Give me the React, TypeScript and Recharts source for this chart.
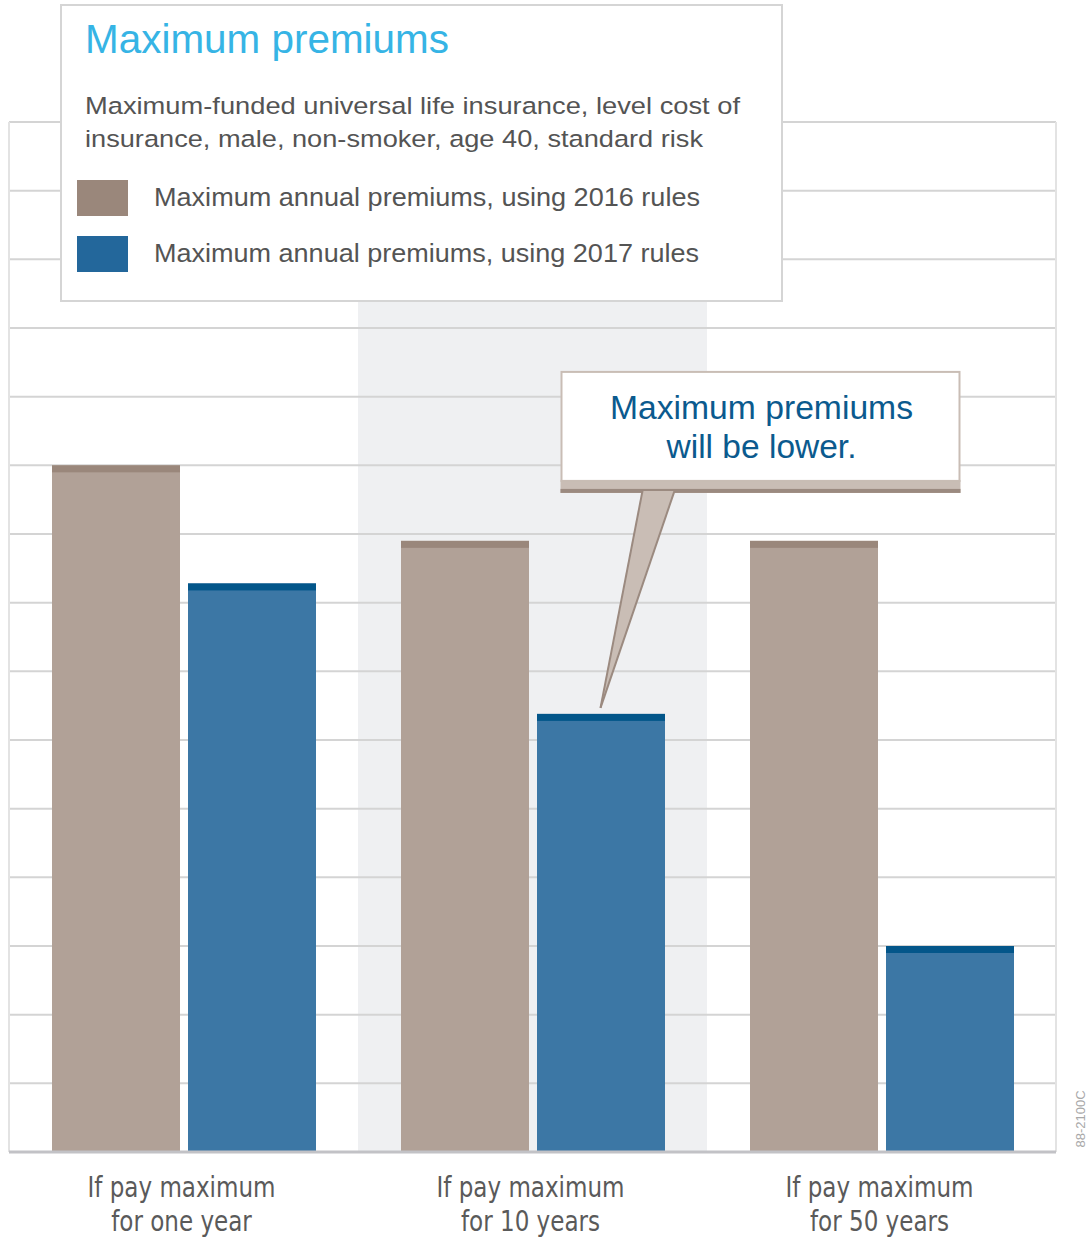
import React from 'react';
import {
  BarChart,
  Bar,
  XAxis,
  YAxis,
  CartesianGrid,
  ReferenceArea,
  ReferenceDot,
  Legend,
} from 'recharts';

// ---------- data ----------
const categories = [
  'If pay maximum\nfor one year',
  'If pay maximum\nfor 10 years',
  'If pay maximum\nfor 50 years',
];
const rules2016 = [10.0, 8.9, 8.9];
const rules2017 = [8.28, 6.38, 3.0];
const yTicks = [0, 1, 2, 3, 4, 5, 6, 7, 8, 9, 10, 11, 12, 13, 14, 15];
const seriesNames = [
  'Maximum annual premiums, using 2016 rules',
  'Maximum annual premiums, using 2017 rules',
];
const titleText = 'Maximum premiums';
const subtitleLines = [
  'Maximum-funded universal life insurance, level cost of',
  'insurance, male, non-smoker, age 40, standard risk',
];
const calloutLines = ['Maximum premiums', 'will be lower.'];
const highlightIndex = 1;
const calloutIndex = 1;
const codeLabel = '88-2100C';

const data = categories.map((c, i) => ({
  category: c,
  r2016: rules2016[i],
  r2017: rules2017[i],
}));

// ---------- style ----------
const FONT = "'Liberation Sans', Arial, Helvetica, sans-serif";
const NARROW = "'Liberation Sans Narrow', 'Arial Narrow', 'DejaVu Sans Condensed', sans-serif";
const BAR_SIZE = 128;
const BAR_GAP = 8;
const COLORS = {
  brown: '#b1a197',
  brownCap: '#9a877b',
  blue: '#3c77a5',
  blueCap: '#03568a',
  swatchBrown: '#9a877b',
  swatchBlue: '#23679b',
};
const subtitleWidths = [655, 618];
const itemWidths = [546, 545];
const calloutWidths = [303, 190];

const makeCapped = (capColor: string) => (props: any) => {
  const { x, y, width, height, fill } = props;
  if (!height || height <= 0) return <g />;
  return (
    <g>
      <rect x={x} y={y} width={width} height={height} fill={fill} />
      <rect x={x} y={y} width={width} height={Math.min(7, height)} fill={capColor} />
    </g>
  );
};

const CategoryTick = (props: any) => {
  const { x, y, payload } = props;
  const lines = String(payload.value).split('\n');
  return (
    <g transform={`translate(${x - 2},${y}) scale(0.915,1)`}>
      {lines.map((l, i) => (
        <text
          key={i}
          x={0}
          y={45 + i * 34}
          textAnchor="middle"
          fontFamily={NARROW}
          fontSize={28}
          fill="#5a5a5a"
        >
          {l}
        </text>
      ))}
    </g>
  );
};

const CalloutShape = (props: any) => {
  const { cx, cy } = props;
  if (cx == null || cy == null) return <g />;
  const tx = cx + BAR_GAP / 2 + BAR_SIZE / 2;
  const ty = cy - 6;
  return (
    <g>
      <rect x={tx - 40} y={ty - 228} width={400} height={13} fill="#c9bdb5" />
      <rect x={tx - 40} y={ty - 219} width={400} height={4} fill="#9b8a80" />
      <polygon points={`${tx + 42},${ty - 217} ${tx + 74},${ty - 217} ${tx},${ty}`} fill="#c9bdb5" />
      <line x1={tx + 42} y1={ty - 217} x2={tx} y2={ty} stroke="#9b8a80" strokeWidth={2} />
      <line x1={tx + 74} y1={ty - 217} x2={tx} y2={ty} stroke="#9b8a80" strokeWidth={2} />
      <rect x={tx - 39} y={ty - 336} width={398} height={109} fill="#ffffff" stroke="#c9bdb5" strokeWidth={2} />
      {calloutLines.map((l, i) => (
        <text
          key={i}
          x={tx + 161}
          y={ty - 289 + i * 39}
          textAnchor="middle"
          fontFamily={FONT}
          fontSize={33}
          fill="#0b5a8e"
          textLength={calloutWidths[i]}
          lengthAdjust="spacingAndGlyphs"
        >
          {l}
        </text>
      ))}
    </g>
  );
};

const LegendBox = () => (
  <svg width={723} height={298} style={{ display: 'block' }}>
    <rect x={1} y={1} width={721} height={296} fill="#ffffff" stroke="#d5d5d5" strokeWidth={2} />
    <text
      x={25}
      y={48.5}
      fontFamily={FONT}
      fontSize={40}
      fill="#36b4e5"
      textLength={364}
      lengthAdjust="spacingAndGlyphs"
    >
      {titleText}
    </text>
    {subtitleLines.map((l, i) => (
      <text
        key={i}
        x={25}
        y={110 + i * 33}
        fontFamily={FONT}
        fontSize={24.5}
        fill="#545454"
        textLength={subtitleWidths[i]}
        lengthAdjust="spacingAndGlyphs"
      >
        {l}
      </text>
    ))}
    {seriesNames.map((n, i) => (
      <g key={n}>
        <rect
          x={17}
          y={176 + i * 56}
          width={51}
          height={36}
          fill={i === 0 ? COLORS.swatchBrown : COLORS.swatchBlue}
        />
        <text
          x={94}
          y={202 + i * 56}
          fontFamily={FONT}
          fontSize={25.5}
          fill="#545454"
          textLength={itemWidths[i]}
          lengthAdjust="spacingAndGlyphs"
        >
          {n}
        </text>
      </g>
    ))}
  </svg>
);

export default function App() {
  return (
    <div
      style={{
        position: 'absolute',
        left: 0,
        top: 0,
        width: 1089,
        height: 1240,
        background: '#ffffff',
        overflow: 'hidden',
      }}
    >
      <BarChart
        width={1089}
        height={1240}
        data={data}
        margin={{ top: 122, right: 33, bottom: 0, left: 9 }}
        barSize={BAR_SIZE}
        barGap={BAR_GAP}
      >
        <ReferenceArea
          x1={categories[highlightIndex]}
          x2={categories[highlightIndex]}
          fill="#eff0f2"
          fillOpacity={1}
          stroke="none"
          ifOverflow="extendDomain"
          zIndex={-200}
        />
        <CartesianGrid
          vertical={false}
          stroke="#d4d4d4"
          strokeWidth={2}
          zIndex={-100}
        />
        <CartesianGrid
          horizontal={false}
          stroke="#e3e3e3"
          strokeWidth={2}
          verticalCoordinatesGenerator={(p: any) => [
            p.offset.left,
            p.offset.left + p.offset.width,
          ]}
          zIndex={-100}
        />
        <XAxis
          dataKey="category"
          interval={0}
          height={88}
          tickLine={false}
          tickSize={0}
          tickMargin={0}
          axisLine={{ stroke: '#c2c2c6', strokeWidth: 3 }}
          tick={<CategoryTick />}
        />
        <YAxis hide domain={[0, 15]} ticks={yTicks} type="number" />
        <Bar
          dataKey="r2016"
          name={seriesNames[0]}
          fill={COLORS.brown}
          isAnimationActive={false}
          shape={makeCapped(COLORS.brownCap)}
        />
        <Bar
          dataKey="r2017"
          name={seriesNames[1]}
          fill={COLORS.blue}
          isAnimationActive={false}
          shape={makeCapped(COLORS.blueCap)}
        />
        <ReferenceDot
          x={categories[calloutIndex]}
          y={rules2017[calloutIndex]}
          r={0}
          shape={<CalloutShape />}
        />
        <Legend
          layout="vertical"
          align="center"
          verticalAlign="middle"
          content={() => <LegendBox />}
          wrapperStyle={{ position: 'absolute', left: 60, top: 4, width: 723, height: 298 }}
        />
      </BarChart>
      <svg
        width={24}
        height={90}
        style={{ position: 'absolute', left: 1069, top: 1074 }}
      >
        <text
          transform="translate(16,45) rotate(-90)"
          textAnchor="middle"
          fontFamily={FONT}
          fontSize={13}
          fill="#a8a8a8"
        >
          {codeLabel}
        </text>
      </svg>
    </div>
  );
}
